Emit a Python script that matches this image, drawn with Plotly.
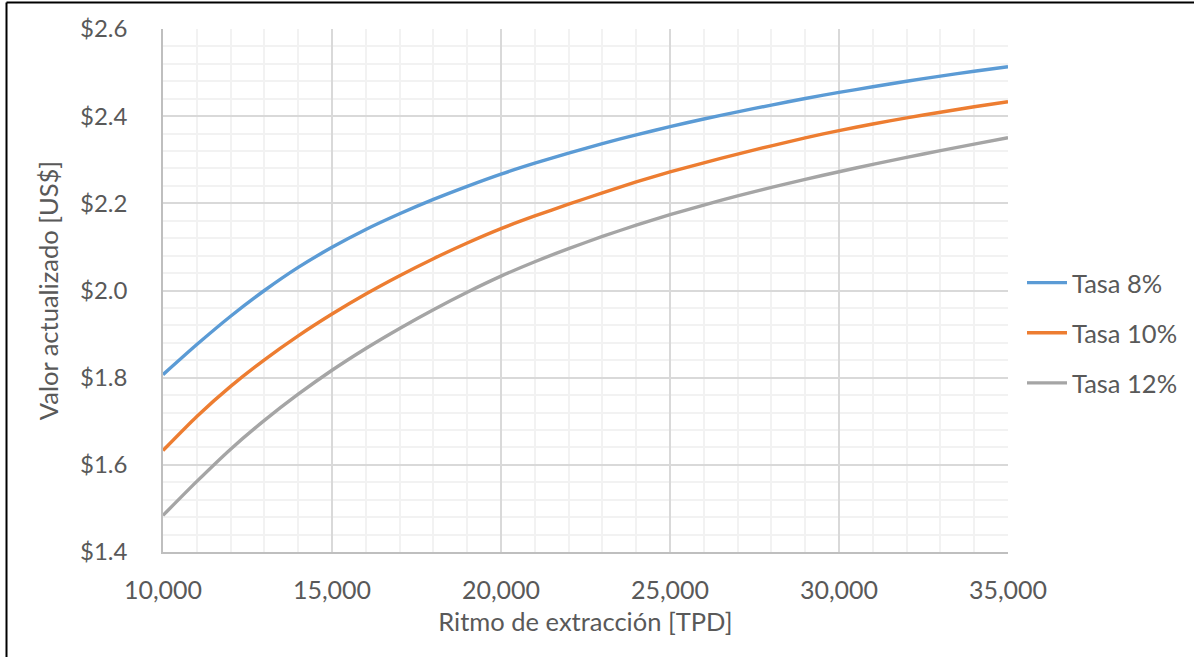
import plotly.graph_objects as go

x_tpd = [10000, 11000, 12000, 13000, 14000, 15000, 16000, 17000, 18000, 19000,
         20000, 21000, 22000, 23000, 24000, 25000, 26000, 27000, 28000, 29000,
         30000, 31000, 32000, 33000, 34000, 35000]

tasa_8 = [1.807, 1.876, 1.941, 2.000, 2.053, 2.099, 2.140, 2.176, 2.209, 2.239,
          2.267, 2.292, 2.315, 2.337, 2.357, 2.376, 2.3935, 2.410, 2.4255, 2.4405,
          2.4545, 2.4675, 2.480, 2.492, 2.503, 2.5135]
tasa_10 = [1.633, 1.711, 1.780, 1.841, 1.896, 1.946, 1.992, 2.034, 2.073, 2.109,
           2.142, 2.171, 2.198, 2.224, 2.249, 2.272, 2.293, 2.313, 2.332, 2.350,
           2.367, 2.382, 2.396, 2.409, 2.4215, 2.433]
tasa_12 = [1.484, 1.562, 1.636, 1.702, 1.762, 1.817, 1.867, 1.913, 1.956, 1.996,
           2.033, 2.066, 2.096, 2.124, 2.150, 2.174, 2.196, 2.217, 2.2365, 2.255,
           2.2725, 2.2895, 2.3055, 2.321, 2.336, 2.3505]

series_names = ["Tasa 8%", "Tasa 10%", "Tasa 12%"]
series_colors = ["#5B9BD5", "#ED7D31", "#A5A5A5"]

x_ticks = [10000, 15000, 20000, 25000, 30000, 35000]
x_tick_labels = ["10,000", "15,000", "20,000", "25,000", "30,000", "35,000"]
y_ticks = [1.4, 1.6, 1.8, 2.0, 2.2, 2.4, 2.6]
y_tick_labels = ["$1.4", "$1.6", "$1.8", "$2.0", "$2.2", "$2.4", "$2.6"]

FONT = "Lato, 'Open Sans', sans-serif"
TXT = "#595959"

fig = go.Figure()
for name, ys, col in zip(series_names, [tasa_8, tasa_10, tasa_12], series_colors):
    fig.add_trace(go.Scatter(x=x_tpd, y=ys, mode="lines", name=name, legendgroup=name,
                             line=dict(color=col, width=3.4, shape="spline", smoothing=0.6)))

fig.update_layout(
    width=1194, height=657,
    margin=dict(l=163, r=186, t=29, b=105, autoexpand=False),
    paper_bgcolor="white", plot_bgcolor="white",
    font=dict(family=FONT, size=25, color=TXT),
    showlegend=True,
    legend=dict(xref="container", yref="container",
                x=1022 / 1194, xanchor="left", y=(657 - 333) / 657, yanchor="middle",
                font=dict(family=FONT, size=25.5, color=TXT),
                tracegroupgap=14, itemwidth=40, bgcolor="rgba(0,0,0,0)"),
    xaxis=dict(range=[10000, 35000], tickmode="array", tickvals=x_ticks,
               ticktext=x_tick_labels, showgrid=True, gridcolor="#D9D9D9", gridwidth=1.5,
               minor=dict(dtick=1000, showgrid=True, gridcolor="#F2F2F2", gridwidth=1.5),
               showline=True, linecolor="#BFBFBF", linewidth=1.5, zeroline=False,
               ticks="", ticklabelstandoff=15,
               tickfont=dict(family=FONT, size=25, color=TXT),
               title=dict(text="Ritmo de extracción [TPD]", standoff=10,
                          font=dict(family=FONT, size=25.5, color=TXT))),
    yaxis=dict(range=[1.4, 2.6], tickmode="array", tickvals=y_ticks,
               ticktext=y_tick_labels, showgrid=True, gridcolor="#D9D9D9", gridwidth=1.5,
               minor=dict(dtick=0.04, tick0=1.4, showgrid=True, gridcolor="#F2F2F2", gridwidth=1.5),
               showline=True, linecolor="#BFBFBF", linewidth=1.5, zeroline=False,
               ticks="", ticklabelstandoff=29,
               tickfont=dict(family=FONT, size=24, color=TXT),
               title=dict(text="Valor actualizado [US$]", standoff=14,
                          font=dict(family=FONT, size=25.5, color=TXT))),
)

# outer frame (left and top edges, as in the reference)
fig.add_shape(type="line", xref="paper", yref="paper",
              x0=(6.5 - 163) / 845, x1=(6.5 - 163) / 845,
              y0=(552 - 2.5) / 523, y1=(552 - 660) / 523,
              line=dict(color="black", width=2))
fig.add_shape(type="line", xref="paper", yref="paper",
              x0=(6.5 - 163) / 845, x1=(1200 - 163) / 845,
              y0=(552 - 2.5) / 523, y1=(552 - 2.5) / 523,
              line=dict(color="black", width=2))

fig.write_html("out.html")
